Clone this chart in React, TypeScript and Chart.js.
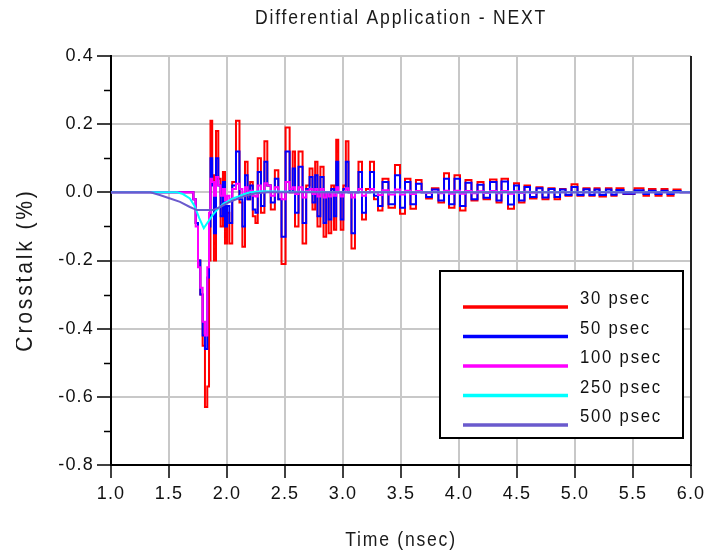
import React, { useEffect, useRef } from 'react';
import { Chart, registerables } from 'chart.js';

Chart.register(...registerables);

const TITLE = 'Differential Application - NEXT';
const X_LABEL = 'Time (nsec)';
const Y_LABEL = 'Crosstalk (%)';
const SERIES_LABELS = ['30 psec', '50 psec', '100 psec', '250 psec', '500 psec'];
const SERIES_COLORS = ['#ff0000', '#0000ff', '#ff00ff', '#00ffff', '#6a5acd'];
const Y_MINOR_TICKS = [0.3, 0.1, -0.1, -0.3, -0.5, -0.7];

// shared time base (nsec) for the 30 / 50 / 100 psec traces
const tFast = [
  1.00, 1.70, 1.72, 1.74, 1.76, 1.78, 1.80, 1.82, 1.84, 1.85,
  1.865, 1.88, 1.895, 1.915, 1.935, 1.955, 1.975, 1.99, 2.01, 2.03,
  2.06, 2.095, 2.12, 2.145, 2.165, 2.19, 2.21, 2.235, 2.255, 2.275,
  2.31, 2.335, 2.36, 2.395, 2.43, 2.455, 2.485, 2.525, 2.555, 2.578,
  2.595, 2.638, 2.665, 2.70, 2.724, 2.75, 2.77, 2.79, 2.82, 2.845,
  2.865, 2.888, 2.91, 2.935, 2.948, 2.97, 2.991, 3.015, 3.034, 3.06,
  3.086, 3.12, 3.147, 3.181, 3.215, 3.25, 3.285, 3.319, 3.362, 3.422,
  3.474, 3.509, 3.56, 3.603, 3.655, 3.70, 3.733, 3.80, 3.845, 3.897,
  3.931, 3.991, 4.026, 4.086, 4.129, 4.19, 4.233, 4.302, 4.345, 4.388,
  4.457, 4.491, 4.543, 4.586, 4.638, 4.698, 4.741, 4.802, 4.845, 4.897,
  4.94, 5.0, 5.043, 5.103, 5.147, 5.19, 5.233, 5.30, 5.328, 5.388,
  5.448, 5.578, 5.603, 5.672, 5.716, 5.776, 5.819, 5.88, 5.94, 6.0,
];

const v30 = [
  0, 0, -0.02, -0.09, -0.20, -0.30, -0.45, -0.63, -0.57, -0.20,
  0.21, 0.05, -0.20, 0.18, 0.04, -0.10, 0.06, -0.15, -0.06, -0.15,
  0.03, 0.21, -0.03, -0.16, 0.09, -0.02, 0.03, -0.07, -0.09, 0.10,
  -0.06, 0.15, 0.02, -0.05, 0.065, -0.02, -0.21, 0.19, 0.0, 0.12,
  -0.10, 0.12, -0.15, 0.02, 0.07, -0.05, 0.09, -0.10, 0.075, -0.13,
  0.0, -0.12, 0.02, -0.11, 0.154, 0.0, -0.11, 0.02, 0.15, 0.0,
  -0.165, 0.0, 0.09, -0.08, 0.01, 0.09, -0.02, -0.053, 0.04, -0.045,
  0.08, -0.063, 0.04, -0.048, 0.036, 0.0, -0.018, 0.012, -0.03, 0.056,
  -0.045, 0.05, -0.053, 0.036, -0.024, 0.03, -0.02, 0.038, -0.03, 0.04,
  -0.048, 0.027, -0.03, 0.02, -0.018, 0.015, -0.02, 0.012, -0.02, 0.01,
  -0.01, 0.024, -0.01, 0.012, -0.01, 0.012, -0.012, 0.012, -0.01, 0.012,
  -0.005, 0.012, -0.01, 0.01, -0.01, 0.01, -0.01, 0.008, 0, 0,
];

const v50 = [
  0, 0, -0.02, -0.09, -0.20, -0.30, -0.42, -0.46, -0.25, -0.10,
  0.10, 0.02, -0.12, 0.10, 0.02, -0.07, 0.03, -0.10, -0.04, -0.09,
  0.02, 0.12, -0.02, -0.10, 0.05, -0.02, 0.02, -0.05, -0.06, 0.06,
  -0.04, 0.09, 0.02, -0.03, 0.04, -0.02, -0.13, 0.12, 0.0, 0.07,
  -0.06, 0.075, -0.09, 0.01, 0.045, -0.03, 0.05, -0.07, 0.045, -0.09,
  0.0, -0.08, 0.01, -0.07, 0.09, 0.0, -0.08, 0.01, 0.09, 0.0,
  -0.12, 0.0, 0.06, -0.06, 0.0, 0.06, -0.01, -0.04, 0.03, -0.035,
  0.05, -0.045, 0.03, -0.035, 0.025, 0.0, -0.014, 0.008, -0.024, 0.04,
  -0.035, 0.04, -0.04, 0.028, -0.02, 0.022, -0.016, 0.03, -0.024, 0.032,
  -0.036, 0.02, -0.024, 0.016, -0.014, 0.012, -0.015, 0.01, -0.014, 0.008,
  -0.008, 0.016, -0.008, 0.009, -0.008, 0.008, -0.008, 0.008, -0.007, 0.007,
  -0.004, 0.006, -0.005, 0.005, -0.005, 0.005, -0.005, 0.004, 0, 0,
];

const v100 = [
  0, 0, -0.02, -0.10, -0.22, -0.28, -0.38, -0.42, -0.22, -0.06,
  0.04, 0.03, -0.01, 0.045, 0.02, -0.01, 0.01, -0.024, -0.01, -0.02,
  0.01, 0.025, 0.01, -0.01, 0.015, 0.0, 0.005, -0.01, -0.012, 0.02,
  0.0, 0.027, 0.02, -0.01, 0.015, 0.0, -0.02, 0.03, 0.01, 0.015,
  -0.005, 0.015, -0.015, 0.005, 0.01, -0.005, 0.01, -0.012, 0.01, -0.015,
  0.0, -0.012, 0.0, -0.01, 0.015, 0.0, -0.012, 0.0, 0.012, 0.0,
  -0.015, 0.0, 0.01, -0.01, 0.0, 0.01, 0.0, -0.008, 0.006, -0.006,
  0.008, -0.006, 0.005, -0.005, 0.004, 0.0, -0.002, 0.002, -0.003, 0.005,
  -0.004, 0.005, -0.004, 0.004, -0.003, 0.003, -0.002, 0.004, -0.003, 0.004,
  -0.004, 0.003, -0.002, 0.002, -0.001, 0.001, 0, 0, 0, 0,
  0, 0, 0, 0, 0, 0, 0, 0, 0, 0,
  0, 0, 0, 0, 0, 0, 0, 0, 0, 0,
];

const t250 = [1.0, 1.57, 1.62, 1.68, 1.72, 1.76, 1.80, 1.84, 1.88, 1.91, 1.97, 2.0, 2.05, 2.10, 2.15, 2.2, 2.3, 2.5, 3.0, 6.0];
const v250 = [0, 0, -0.005, -0.018, -0.04, -0.075, -0.105, -0.085, -0.065, -0.053, -0.033, -0.028, -0.018, -0.012, -0.005, 0.0, 0.003, 0.002, 0, 0];

const t500 = [1.0, 1.34, 1.42, 1.51, 1.595, 1.68, 1.74, 1.88, 1.94, 2.01, 2.095, 2.17, 2.25, 2.35, 6.0];
const v500 = [0, 0, -0.008, -0.018, -0.028, -0.043, -0.052, -0.052, -0.043, -0.03, -0.018, -0.009, -0.003, 0, 0];

const zip = (t: number[], v: number[]) => t.map((x, i) => ({ x, y: v[i] }));

const FONT = '"Liberation Sans", Arial, sans-serif';

function drawText(ctx: any, text: string, x: number, y: number, size: number, spacing: number, sx: number, align: string, rot = 0) {
  ctx.save();
  ctx.translate(x, y);
  if (rot) ctx.rotate(rot);
  ctx.scale(sx, 1);
  ctx.font = size + 'px ' + FONT;
  ctx.letterSpacing = spacing + 'px';
  ctx.textAlign = align;
  ctx.fillText(text, 0, 0);
  ctx.restore();
}

const decorPlugin = {
  id: 'decor',
  beforeDraw(chart: any) {
    chart.ctx.letterSpacing = '1.2px';
  },
  afterDatasetsDraw(chart: any) {
    const { ctx, chartArea: ca } = chart;
    const yScale = chart.scales.y;
    ctx.save();
    // right frame
    ctx.strokeStyle = '#222';
    ctx.lineWidth = 2;
    ctx.beginPath();
    ctx.moveTo(ca.right, ca.top);
    ctx.lineTo(ca.right, ca.bottom);
    ctx.stroke();
    // minor y ticks
    ctx.strokeStyle = '#000';
    ctx.lineWidth = 1.5;
    Y_MINOR_TICKS.forEach((v) => {
      const py = Math.round(yScale.getPixelForValue(v)) + 0.5;
      ctx.beginPath();
      ctx.moveTo(ca.left - 7, py);
      ctx.lineTo(ca.left, py);
      ctx.stroke();
    });
    // legend box
    const bx = ca.right - 251;
    const by = ca.top + 215;
    const bw = 243;
    const bh = 167;
    ctx.fillStyle = '#ffffff';
    ctx.fillRect(bx, by, bw, bh);
    ctx.strokeStyle = '#000';
    ctx.lineWidth = 2;
    ctx.strokeRect(bx, by, bw, bh);
    ctx.textBaseline = 'middle';
    chart.data.datasets.forEach((ds: any, i: number) => {
      const ly = by + 36 + i * 29.5;
      ctx.strokeStyle = ds.borderColor;
      ctx.lineWidth = 3.5;
      ctx.beginPath();
      ctx.moveTo(bx + 23, ly);
      ctx.lineTo(bx + 128, ly);
      ctx.stroke();
      ctx.fillStyle = '#111';
      drawText(ctx, ds.label, bx + 140, ly - 8, 19, 2, 0.88, 'left');
    });
    ctx.restore();
  },
  afterDraw(chart: any) {
    const { ctx, chartArea: ca } = chart;
    const cx = (ca.left + ca.right) / 2;
    ctx.save();
    ctx.fillStyle = '#1a1a1a';
    ctx.textBaseline = 'middle';
    drawText(ctx, TITLE, cx, 18, 20, 2, 0.88, 'center');
    drawText(ctx, X_LABEL, cx, 540, 20, 2, 0.88, 'center');
    // y axis title (rotated, clipped at its top like the original)
    ctx.save();
    ctx.beginPath();
    ctx.rect(16, 0, 200, 554);
    ctx.clip();
    ctx.textBaseline = 'alphabetic';
    drawText(ctx, Y_LABEL, 32, 270, 24, 3.2, 0.88, 'center', -Math.PI / 2);
    ctx.restore();
    ctx.restore();
  },
};

export default function App() {
  const ref = useRef<HTMLCanvasElement>(null);
  useEffect(() => {
    if (!ref.current) return;
    const mk = (i: number, data: any[], stepped: any) => ({
      label: SERIES_LABELS[i],
      data,
      borderColor: SERIES_COLORS[i],
      backgroundColor: SERIES_COLORS[i],
      borderWidth: 2,
      pointRadius: 0,
      tension: 0,
      stepped,
      order: 5 - i,
    });
    const chart = new Chart(ref.current, {
      type: 'line',
      data: {
        datasets: [
          mk(0, zip(tFast, v30), 'middle'),
          mk(1, zip(tFast, v50), 'middle'),
          mk(2, zip(tFast, v100), 'middle'),
          mk(3, zip(t250, v250), false),
          mk(4, zip(t500, v500), false),
        ],
      },
      options: {
        animation: false,
        responsive: false,
        devicePixelRatio: 1,
        layout: { padding: { left: 0, right: 19, top: 56, bottom: 0 } },
        font: { family: FONT },
        plugins: {
          legend: { display: false },
          tooltip: { enabled: false },
          title: { display: false },
        },
        scales: {
          x: {
            type: 'linear',
            min: 1,
            max: 6,
            afterFit: (s: any) => { s.height = 89; },
            ticks: {
              stepSize: 0.5,
              color: '#111',
              font: { family: FONT, size: 18 },
              padding: 5,
              maxRotation: 0,
              callback: (v: any) => Number(v).toFixed(1),
            },
            grid: { color: '#c8c8c8', lineWidth: 2, tickColor: '#000', tickLength: 13, tickWidth: 1.5 },
            border: { display: true, color: '#000', width: 2 },
          },
          y: {
            type: 'linear',
            min: -0.8,
            max: 0.4,
            afterFit: (s: any) => { s.width = 111; },
            ticks: {
              stepSize: 0.2,
              color: '#111',
              font: { family: FONT, size: 18 },
              padding: 3,
              callback: (v: any) => Number(v).toFixed(1),
            },
            grid: { color: '#c8c8c8', lineWidth: 2, tickColor: '#000', tickLength: 14, tickWidth: 1.5 },
            border: { display: true, color: '#000', width: 2 },
          },
        },
      } as any,
      plugins: [decorPlugin],
    });
    return () => chart.destroy();
  }, []);
  return (
    <div style={{ position: 'fixed', left: 0, top: 0, width: 710, height: 554, background: '#fff' }}>
      <canvas ref={ref} width={710} height={554} />
    </div>
  );
}
